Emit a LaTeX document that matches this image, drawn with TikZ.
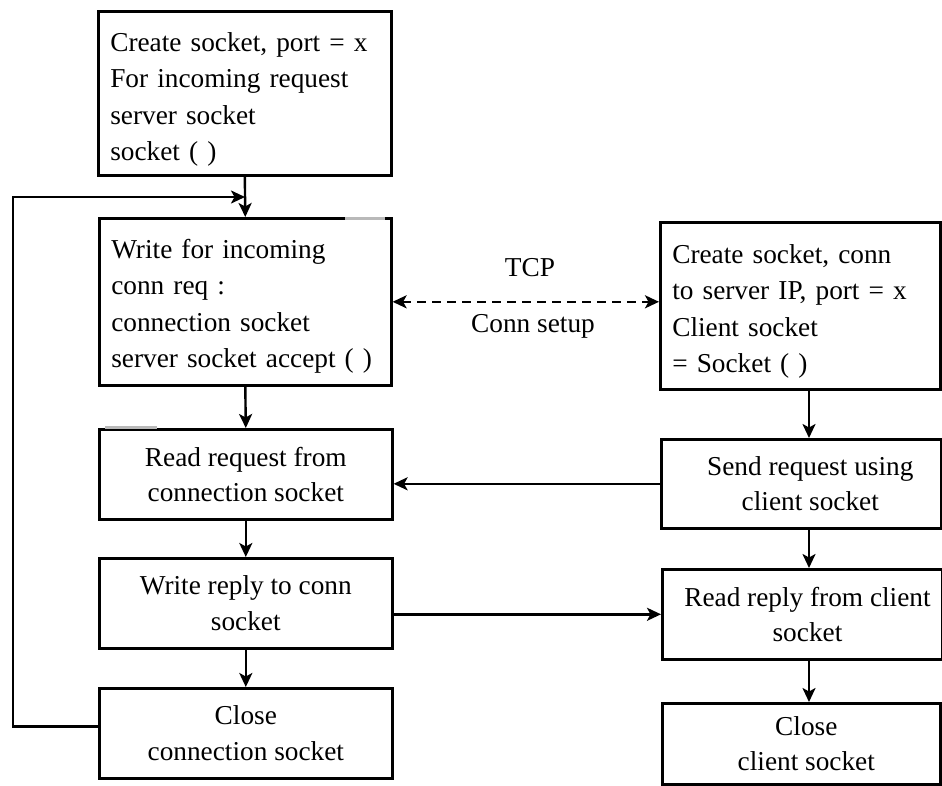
\documentclass[tikz,border=0pt]{standalone}
\usepackage{fontspec}
\setmainfont{Liberation Serif}
\usetikzlibrary{arrows.meta}
\begin{document}
\begin{tikzpicture}[x=1pt,y=-1pt,
  box/.style={draw, line width=2.6pt, inner xsep=12pt, inner ysep=0pt, anchor=north west,
    font=\fontsize{27.3}{35.5}\selectfont},
  lbox/.style={box, align=left, font=\fontsize{27.3}{36.5}\selectfont},
  cbox/.style={box, align=center},
  tip/.style={},
  arr/.style={line width=2.4pt, -{Stealth[length=14pt,width=13pt,inset=3.5pt]}},
  darr/.style={line width=2.4pt, dash pattern=on 9pt off 6pt,
    {Stealth[length=14pt,width=13pt,inset=3.5pt]}-{Stealth[length=14pt,width=13pt,inset=3.5pt]}},
  lbl/.style={font=\fontsize{27.3}{34}\selectfont},
  scanmark/.style={draw=gray!55, line width=3pt}
]
\useasboundingbox (0,0) rectangle (942,785);
\clip (0,0) rectangle (942,785);

% server side
\node[lbox, minimum width=293pt, minimum height=164pt, text width=269pt] (b1) at (97,10)
  {\rule{0pt}{31pt}Create socket, port = x\\For incoming request\\server socket\\socket ( )};
\node[lbox, minimum width=292pt, minimum height=167pt, text width=268pt] (b2) at (98,217)
  {\rule{0pt}{28pt}Write for incoming\\conn req :\\connection socket\\server socket accept ( )};
\node[cbox, minimum width=293pt, minimum height=90pt] (b3) at (98,428)
  {Read request from\\connection socket};
\node[cbox, minimum width=293pt, minimum height=90pt] (b4) at (98,557)
  {Write reply to conn\\socket};
\node[cbox, minimum width=293pt, minimum height=90pt] (b5) at (98,687)
  {Close\\connection socket};

% client side
\node[lbox, minimum width=280pt, minimum height=167pt, text width=256pt] (b6) at (659,221)
  {\rule{0pt}{30pt}Create socket, conn\\to server IP, port = x\\Client socket\\= Socket ( )};
\node[cbox, minimum width=280pt, minimum height=89pt] (b7) at (660,438)
  {\hspace*{18pt}Send request using\\\hspace*{18pt}client socket};
\node[cbox, minimum width=278pt, minimum height=90pt] (b8) at (661,568)
  {\hspace*{10pt}Read reply from client\\\hspace*{10pt}socket};
\node[cbox, minimum width=278pt, minimum height=81pt] (b9) at (661,702)
  {\hspace*{10pt}Close\\\hspace*{10pt}client socket};

% scan marks
\draw[scanmark] (345,218) -- (385,218);
\draw[scanmark] (105,427) -- (157,427);

% helper coordinates
\coordinate (rx) at (809,0);
\coordinate (lx) at (13,0);
\coordinate (m) at (245,197);

% server arrows
\draw[arr] (b1.south) -- (b2.north);
\draw[arr] (b2.south) -- (b3.north);
\draw[arr] (b3.south) -- (b4.north);
\draw[arr] (b4.south) -- (b5.north);
\draw[arr] ([yshift=7pt]b5.west) -| (lx |- m) -- (m);

% client arrows
\draw[arr] (b6.south -| rx) -- (b7.north -| rx);
\draw[arr] (b7.south -| rx) -- (b8.north -| rx);
\draw[arr] (b8.south -| rx) -- (b9.north -| rx);

% cross connections
\draw[darr] (b2.east) -- (b2.east -| b6.west);
\node[lbl] (tcp) at (530,268) {TCP};
\node[lbl] (cs) at (533,326) {Conn setup};
\draw[arr] (b7.west) -- (b7.west -| b3.east);
\draw[arr] (b8.west -| b4.east) -- (b8.west);
\end{tikzpicture}
\end{document}
